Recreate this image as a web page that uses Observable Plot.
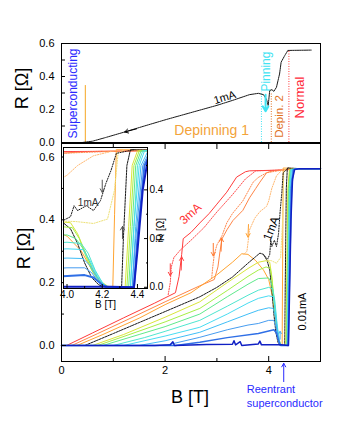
<!DOCTYPE html>
<html><head><meta charset="utf-8">
<script src="https://cdn.jsdelivr.net/npm/d3@7"></script>
<script src="https://cdn.jsdelivr.net/npm/@observablehq/plot@0.6"></script>
<style>
body{margin:0;background:#fff;}
#wrap{position:relative;width:340px;height:440px;overflow:hidden;}
#wrap svg{position:absolute;left:0;top:0;}
</style></head><body><div id="wrap"></div>
<script>
const FONT = "'Liberation Sans', Arial, Helvetica, sans-serif";

// ---------- tick values ----------
const B_MAJOR = [0, 2, 4];
const B_MINOR = [1, 3, 5];
const B_TOP = [0, 1, 2, 3, 4, 5];
const R_MAJOR = [0, 0.2, 0.4, 0.6];
const R_MINOR = [0.1, 0.3, 0.5];
const INSET_B_MAJOR = [4.0, 4.2, 4.4];
const INSET_B_MINOR = [4.1, 4.3];
const INSET_R_MAJOR = [0, 0.2, 0.4];
const INSET_R_MINOR = [0.1, 0.3, 0.5];

// ---------- top panel: 1 mA sweep [B, R] ----------
const top1mA = [[0,0],[0.4,0],[0.6,0.008],[0.85,0.03],[1.2,0.062],[1.6,0.1],[2.03,0.14],[2.6,0.19],[3.0,0.225],[3.3,0.255],[3.63,0.29],[3.8,0.298],[3.9,0.29],[3.96,0.26],[3.99,0.224],[4.02,0.315],[4.06,0.32],[4.1,0.31],[4.15,0.335],[4.21,0.416],[4.24,0.487],[4.31,0.527],[4.37,0.558],[4.82,0.56]];
const boundaryB = [0.46, 3.86, 4.05, 4.39];
const boundaryTopR = [0.345, 0.305, 0.3, 0.557];

// ---------- main panel: increasing-field sweeps [B, R] ----------
const up3   = [[0,0],[0.1,0],[0.6,0.04],[1.2,0.088],[1.8,0.135],[2.2,0.168],[2.27,0.22],[2.32,0.29],[2.35,0.34],[2.5,0.36],[2.67,0.39],[2.85,0.42],[3.0,0.45],[3.19,0.488],[3.38,0.536],[3.55,0.553],[3.63,0.556],[4.15,0.558],[4.6,0.562],[5,0.563]];
const up25  = [[0,0],[0.2,0],[0.7,0.038],[1.4,0.092],[2.0,0.139],[2.67,0.19],[2.95,0.21],[3.02,0.25],[3.06,0.3],[3.1,0.34],[3.2,0.37],[3.31,0.398],[3.5,0.43],[3.63,0.47],[3.75,0.5],[3.83,0.52],[3.96,0.55],[4.1,0.557],[4.6,0.562],[5,0.563]];
const up15  = [[0,0],[0.3,0],[0.8,0.035],[1.5,0.087],[2.0,0.13],[2.5,0.168],[3.0,0.225],[3.3,0.265],[3.48,0.292],[3.6,0.29],[3.75,0.27],[3.9,0.24],[4.0,0.21],[4.08,0.15],[4.15,0.06],[4.2,0.015],[4.24,0],[4.26,0],[4.27,0.3],[4.28,0.565],[4.6,0.563],[5,0.563]];
const up1   = [[0,0],[0.45,0],[1.0,0.038],[1.5,0.073],[2.0,0.108],[2.67,0.155],[3.0,0.185],[3.3,0.218],[3.6,0.262],[3.75,0.283],[3.83,0.294],[3.9,0.29],[3.97,0.27],[4.02,0.24],[4.06,0.18],[4.1,0.1],[4.14,0.04],[4.18,0.01],[4.22,0],[4.31,0],[4.32,0.2],[4.34,0.5],[4.36,0.565],[4.6,0.563],[5,0.563]];
const up08  = [[0,0],[0.6,0],[1.2,0.035],[2.0,0.09],[2.67,0.139],[3.2,0.2],[3.6,0.245],[3.8,0.265],[3.95,0.27],[4.02,0.265],[4.06,0.22],[4.1,0.15],[4.14,0.08],[4.18,0.03],[4.23,0.005],[4.26,0],[4.33,0],[4.35,0.25],[4.37,0.5],[4.4,0.56],[4.6,0.563],[5,0.563]];
const up06  = [[0,0],[0.7,0],[1.4,0.04],[2.0,0.075],[2.67,0.118],[3.2,0.175],[3.6,0.22],[3.8,0.24],[3.95,0.25],[4.03,0.245],[4.07,0.2],[4.1,0.14],[4.14,0.07],[4.18,0.025],[4.22,0.005],[4.25,0],[4.34,0],[4.36,0.25],[4.38,0.5],[4.41,0.56],[4.6,0.563],[5,0.563]];
const up05  = [[0,0],[0.8,0],[1.5,0.035],[2.0,0.06],[2.67,0.1],[3.2,0.155],[3.6,0.195],[3.8,0.213],[4.0,0.215],[4.05,0.2],[4.1,0.15],[4.15,0.07],[4.19,0.02],[4.23,0],[4.35,0],[4.37,0.25],[4.39,0.5],[4.42,0.56],[4.6,0.563],[5,0.563]];
const up04  = [[0,0],[1.0,0],[1.6,0.025],[2.0,0.045],[2.67,0.08],[3.2,0.125],[3.6,0.16],[3.8,0.176],[4.0,0.185],[4.08,0.18],[4.12,0.14],[4.16,0.07],[4.2,0.02],[4.23,0],[4.36,0],[4.38,0.25],[4.4,0.5],[4.43,0.56],[4.6,0.563],[5,0.563]];
const up03  = [[0,0],[1.2,0],[2.0,0.03],[2.67,0.058],[3.2,0.1],[3.6,0.135],[3.8,0.15],[4.0,0.158],[4.09,0.155],[4.13,0.11],[4.17,0.05],[4.21,0.01],[4.24,0],[4.36,0],[4.38,0.25],[4.41,0.5],[4.44,0.56],[4.6,0.563],[5,0.563]];
const up02  = [[0,0],[1.5,0],[2.0,0.015],[2.67,0.042],[3.2,0.075],[3.6,0.1],[3.8,0.112],[4.0,0.12],[4.09,0.118],[4.13,0.09],[4.17,0.04],[4.21,0.005],[4.24,0],[4.37,0],[4.39,0.25],[4.42,0.5],[4.46,0.56],[4.6,0.563],[5,0.563]];
const up015 = [[0,0],[2.0,0],[2.67,0.026],[3.2,0.05],[3.6,0.065],[3.8,0.07],[4.0,0.08],[4.1,0.08],[4.14,0.06],[4.18,0.02],[4.22,0],[4.37,0],[4.39,0.2],[4.43,0.5],[4.47,0.56],[4.6,0.563],[5,0.563]];
const up01  = [[0,0],[2.2,0],[2.67,0.01],[3.2,0.025],[3.8,0.038],[4.1,0.05],[4.15,0.04],[4.2,0.01],[4.23,0],[4.38,0],[4.4,0.2],[4.44,0.5],[4.48,0.56],[4.6,0.563],[5,0.563]];
const up001 = [[0,0],[1.8,0],[2.1,0.002],[2.15,0.012],[2.18,0],[2.8,0.003],[3.3,0.004],[3.33,0.015],[3.36,0.002],[3.45,0.012],[3.48,0],[3.8,0.005],[3.83,0.014],[3.86,0.002],[4.25,0.002],[4.38,0],[4.4,0.15],[4.43,0.4],[4.46,0.53],[4.5,0.56],[4.6,0.563],[5,0.563]];

// ---------- main panel: decreasing-field sweeps [B, R] ----------
const dn3  = [[4.2,0.558],[3.75,0.556],[3.55,0.53],[3.3,0.48],[3.0,0.425],[2.75,0.375],[2.5,0.335],[2.3,0.305],[2.17,0.28],[2.12,0.25],[2.1,0.2],[2.06,0.162]];
const dn25 = [[4.25,0.558],[3.96,0.55],[3.8,0.535],[3.7,0.52],[3.5,0.46],[3.3,0.42],[3.19,0.39],[3.1,0.35],[3.0,0.32],[2.95,0.29],[2.92,0.25],[2.9,0.215]];
const dn15 = [[4.28,0.563],[4.15,0.54],[4.06,0.5],[4.0,0.46],[3.96,0.443],[3.83,0.426],[3.73,0.405],[3.63,0.368],[3.58,0.3],[3.52,0.29]];
const dn08 = [[4.32,0.563],[4.29,0.55],[4.27,0.4],[4.23,0.28],[4.15,0.262],[4.05,0.27],[3.95,0.272]];
const dn1  = [[4.38,0.565],[4.3,0.553],[4.28,0.55],[4.25,0.48],[4.22,0.425],[4.19,0.356],[4.15,0.315],[4.11,0.335],[4.06,0.315],[4.04,0.335],[4.02,0.29],[3.98,0.275],[3.9,0.288]];

const upSeries = [up3, up25, up15, up1, up08, up06, up05, up04, up03, up02, up015, up01, up001];
const upColors = ["#ff3b3b","#ff8547","#ffa431","#1a1a1a","#d9e53a","#a6ef45","#5fe98c","#4ee6cf","#48dcf2","#3fbef7","#469cf0","#2f6fe6","#1020c4"];
const upDash   = [null,null,null,"2,1",null,null,null,null,null,null,null,null,null];
const dnSeries = [dn3, dn25, dn15, dn08, dn1];
const dnColors = ["#ff4b4b","#ff8a50","#ffb870","#eee27a","#1a1a1a"];

// sweep-direction arrows [B, R] tail -> head
const mainArrowFrom = [[2.1,0.26],[2.31,0.24],[2.93,0.325],[3.08,0.3],[3.61,0.385],[4.22,0.02]];
const mainArrowTo   = [[2.1,0.222],[2.32,0.282],[2.93,0.285],[3.09,0.342],[3.6,0.345],[4.22,0.045]];
const mainArrowColors = ["#ff4040","#ff4040","#ff7a30","#ff7a30","#ffa030","#4ab0f0"];
const insetArrowFrom = [[4.2,0.44],[4.315,0.2]];
const insetArrowTo   = [[4.2,0.39],[4.315,0.25]];
const topArrowFrom = [[1.45,0.083]];
const topArrowTo   = [[1.22,0.064]];

const f1 = d3.format(".1f");
const none = () => "";

function curveMarks(clip, thin, thick) {
  const m = [];
  upSeries.forEach((pts, i) => m.push(Plot.line(pts, {
    x: d => d[0], y: d => d[1], stroke: upColors[i],
    strokeWidth: i >= upSeries.length - 2 ? thick : thin,
    strokeDasharray: upDash[i] || undefined, clip
  })));
  dnSeries.forEach((pts, i) => m.push(Plot.line(pts, {
    x: d => d[0], y: d => d[1], stroke: dnColors[i], strokeWidth: thin,
    strokeDasharray: "1.2,1.4", clip
  })));
  return m;
}
function arrows(from, to, colors, w) {
  return from.map((a, i) => Plot.arrow([0], {
    x1: a[0], y1: a[1], x2: to[i][0], y2: to[i][1],
    stroke: Array.isArray(colors) ? colors[i] : colors, strokeWidth: w, headLength: 6
  }));
}

const wrap = document.getElementById("wrap");

// ---------- main panel ----------
const main = Plot.plot({
  width: 340, height: 440,
  marginLeft: 61, marginRight: 20, marginTop: 143, marginBottom: 79,
  x: {domain: [0, 5]}, y: {domain: [-0.051, 0.643]},
  style: {fontFamily: FONT, fontSize: "11px", background: "#fff", color: "#000"},
  marks: [
    ...curveMarks(false, 1, 1.5),
    Plot.frame({stroke: "#000"}),
    Plot.axisY(R_MAJOR, {anchor: "left", tickSize: -5, tickPadding: 12, tickFormat: f1, label: null}),
    Plot.axisY(R_MINOR, {anchor: "left", tickSize: -3, tickFormat: none, label: null}),
    Plot.axisX(B_MAJOR, {anchor: "bottom", tickSize: -5, tickPadding: 10, tickFormat: d3.format("d"), label: null}),
    Plot.axisX(B_MINOR, {anchor: "bottom", tickSize: -3, tickFormat: none, label: null}),
    Plot.axisX(B_TOP, {anchor: "top", tickSize: -5, tickFormat: none, label: null}),
    ...arrows(mainArrowFrom, mainArrowTo, mainArrowColors, 1),
    Plot.arrow([0], {x1: 4.29, y1: -0.115, x2: 4.29, y2: -0.057, stroke: "#2a2aff", strokeWidth: 1, headLength: 6}),
    Plot.text(["3mA"], {x: 2.49, y: 0.419, text: d => d, rotate: -42, fill: "#ff3030", fontSize: 12}),
    Plot.text(["1mA"], {x: 4.05, y: 0.372, text: d => d, rotate: -68, fill: "#000", fontSize: 12}),
    Plot.text(["0.01mA"], {x: 4.65, y: 0.108, text: d => d, rotate: -90, fill: "#000", fontSize: 11}),
    Plot.text(["Reentrant\nsuperconductor"], {x: 3.577, y: -0.159, text: d => d, textAnchor: "start", fill: "#2a2aff", fontSize: 11, lineHeight: 1.25}),
    Plot.text(["B [T]"], {x: 2.48, y: -0.166, text: d => d, fontSize: 18}),
    Plot.text(["R [Ω]"], {x: -0.71, y: 0.309, text: d => d, rotate: -90, fontSize: 18})
  ]
});
wrap.appendChild(main);

// ---------- top panel ----------
const topPanel = Plot.plot({
  width: 340, height: 440,
  marginLeft: 61, marginRight: 20, marginTop: 43, marginBottom: 298,
  x: {domain: [0, 5], axis: null}, y: {domain: [0, 0.6], axis: null},
  style: {fontFamily: FONT, fontSize: "11px", background: "transparent", color: "#000"},
  marks: [
    Plot.ruleX([0], {x: boundaryB[0], y1: 0, y2: boundaryTopR[0], stroke: "#f5a623", strokeWidth: 1}),
    Plot.ruleX([0], {x: boundaryB[1], y1: 0, y2: boundaryTopR[1], stroke: "#3fe3f2", strokeDasharray: "1,1.5"}),
    Plot.ruleX([0], {x: boundaryB[2], y1: 0, y2: boundaryTopR[2], stroke: "#e0721f", strokeDasharray: "1,1.5"}),
    Plot.ruleX([0], {x: boundaryB[3], y1: 0, y2: boundaryTopR[3], stroke: "#ff3a3a", strokeDasharray: "1,1.5"}),
    Plot.line(top1mA, {x: d => d[0], y: d => d[1], stroke: "#1a1a1a", strokeWidth: 1, strokeDasharray: "1.5,0.8"}),
    Plot.frame({stroke: "#000"}),
    Plot.axisY(R_MAJOR, {anchor: "left", tickSize: -4, tickPadding: 11, tickFormat: f1, label: null}),
    Plot.axisY(R_MINOR, {anchor: "left", tickSize: -4, tickFormat: none, label: null}),
    ...arrows(topArrowFrom, topArrowTo, "#000", 1),
    Plot.arrow([0], {x1: 3.94, y1: 0.29, x2: 3.94, y2: 0.19, stroke: "#3fe3f2", strokeWidth: 2, headLength: 5}),
    Plot.text(["Superconducting"], {x: 0.23, y: 0.297, text: d => d, rotate: -90, fill: "#2a2aff", fontSize: 12}),
    Plot.text(["Depinning 1"], {x: 2.9, y: 0.073, text: d => d, fill: "#f3a33a", fontSize: 14}),
    Plot.text(["Pinning"], {x: 3.95, y: 0.43, text: d => d, rotate: -90, fill: "#3fe3f2", fontSize: 12}),
    Plot.text(["Depin. 2"], {x: 4.21, y: 0.158, text: d => d, rotate: -90, fill: "#e0721f", fontSize: 11.5}),
    Plot.text(["Normal"], {x: 4.6, y: 0.273, text: d => d, rotate: -90, fill: "#ff2a3a", fontSize: 13}),
    Plot.text(["1mA"], {x: 3.15, y: 0.273, text: d => d, rotate: -17, fill: "#000", fontSize: 11}),
    Plot.text(["R [Ω]"], {x: -0.75, y: 0.327, text: d => d, rotate: -90, fontSize: 18})
  ]
});
wrap.appendChild(topPanel);

// ---------- inset ----------
const inset = Plot.plot({
  width: 340, height: 440,
  marginLeft: 63, marginRight: 193, marginTop: 147, marginBottom: 152,
  x: {domain: [3.98, 4.457]}, y: {domain: [-0.005, 0.574]},
  style: {fontFamily: FONT, fontSize: "10px", background: "transparent", color: "#000"},
  marks: [
    Plot.frame({fill: "#fff", stroke: "none"}),
    ...curveMarks(true, 1, 2),
    Plot.frame({stroke: "#000"}),
    Plot.axisX(INSET_B_MAJOR, {anchor: "bottom", tickSize: -4, tickPadding: 6, tickFormat: f1, label: null}),
    Plot.axisX(INSET_B_MINOR, {anchor: "bottom", tickSize: -2, tickFormat: none, label: null}),
    Plot.axisY(INSET_R_MAJOR, {anchor: "right", tickSize: -4, tickPadding: 6, tickFormat: f1, label: null}),
    Plot.axisY(INSET_R_MINOR, {anchor: "right", tickSize: -2, tickFormat: none, label: null}),
    ...arrows(insetArrowFrom, insetArrowTo, "#555", 1),
    Plot.text(["1mA"], {x: 4.12, y: 0.348, text: d => d, fill: "#333", fontSize: 10}),
    Plot.text(["B [T]"], {frameAnchor: "bottom", dy: 19, text: d => d, fontSize: 10}),
    Plot.text(["R [Ω]"], {frameAnchor: "right", dx: 13, text: d => d, rotate: -90, fontSize: 10})
  ]
});
wrap.appendChild(inset);
</script>
</body></html>
